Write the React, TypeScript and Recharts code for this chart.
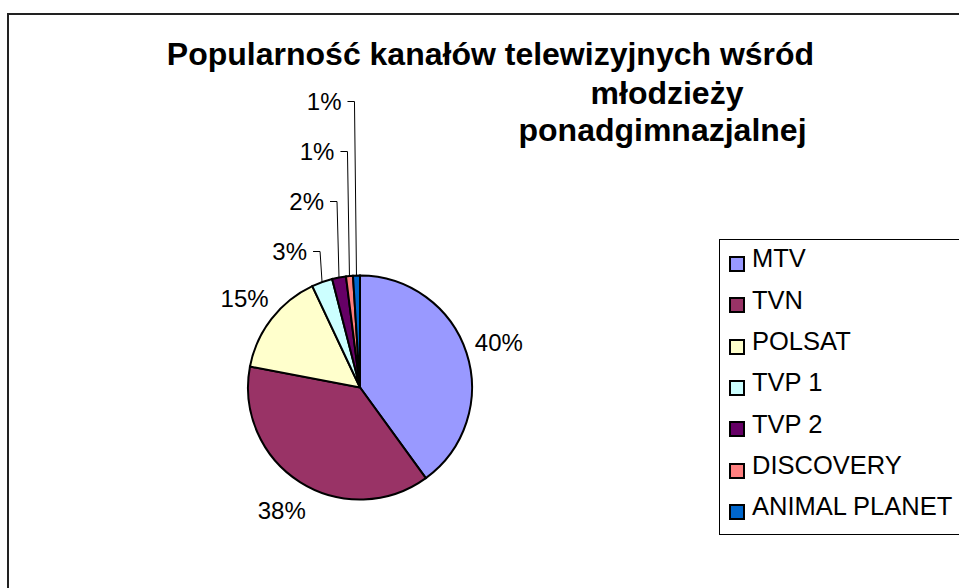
import React from 'react';
import { PieChart, Pie, Legend } from 'recharts';

// Chart data
const channels = ['MTV', 'TVN', 'POLSAT', 'TVP 1', 'TVP 2', 'DISCOVERY', 'ANIMAL PLANET'];
const shares = [40, 38, 15, 3, 2, 1, 1];
const sliceColors = ['#9999FF', '#993366', '#FFFFCC', '#CCFFFF', '#660066', '#FF8080', '#0066CC'];
const titleLines = ['Popularność kanałów telewizyjnych wśród', 'młodzieży', 'ponadgimnazjalnej'];

const data = channels.map((name, i) => ({ name, value: shares[i], fill: sliceColors[i] }));

const FONT = '"Liberation Sans", Arial, sans-serif';
const RADIAN = Math.PI / 180;
const SMALL_FROM = 3; // slices from this index on get stacked callout labels

const renderLabel = (props: any) => {
  const { cx, cy, midAngle, outerRadius, percent, index } = props;
  const text = `${Math.round(percent * 100)}%`;
  const cos = Math.cos(-midAngle * RADIAN);
  const sin = Math.sin(-midAngle * RADIAN);

  if (index < SMALL_FROM) {
    const r = outerRadius + 34;
    return (
      <text key={`lbl-${index}`} x={cx + r * cos} y={cy + r * sin} textAnchor="middle"
        dominantBaseline="central" fontFamily={FONT} fontSize={24} fill="#000">
        {text}
      </text>
    );
  }

  // thin slices: label stacked above the pie, leader line down to the slice edge
  const ex = cx + outerRadius * cos;
  const ey = cy + outerRadius * sin;
  const elbow = ex - 2;
  const ly = cy - outerRadius - 24 - (index - SMALL_FROM) * 50;
  return (
    <g key={`lbl-${index}`}>
      <polyline points={`${elbow - 7},${ly} ${elbow},${ly} ${ex},${ey}`} fill="none" stroke="#000" strokeWidth={1} />
      <text x={elbow - 13} y={ly} textAnchor="end" dominantBaseline="central"
        fontFamily={FONT} fontSize={24} fill="#000">
        {text}
      </text>
    </g>
  );
};

const LegendBox = ({ payload }: any) => {
  // keep the series order of the data, not the legend's own sorting
  const items = channels.map((c, i) => {
    const hit = (payload || []).find((p: any) => p.value === c);
    return { value: c, color: sliceColors[i] || (hit && hit.color) };
  });
  return (
    <div style={{
      width: 260, height: 296, border: '1px solid #000', background: '#fff',
      fontFamily: FONT, fontSize: 25.5, lineHeight: '24px', color: '#000', paddingTop: 6.2, boxSizing: 'border-box'
    }}>
      {items.map((entry) => (
        <div key={entry.value} style={{ position: 'relative', height: 41.33 }}>
          <div style={{
            position: 'absolute', left: 9, top: 9.8, width: 16, height: 16,
            boxSizing: 'border-box', border: '2px solid #000', background: entry.color
          }} />
          <div style={{ position: 'absolute', left: 32, top: 0, whiteSpace: 'nowrap' }}>{entry.value}</div>
        </div>
      ))}
    </div>
  );
};

export default function App() {
  return (
    <div style={{ position: 'absolute', left: 0, top: 0, width: 959, height: 588, overflow: 'hidden', background: '#fff' }}>
      <div style={{ position: 'absolute', left: 7, top: 13, width: 1000, height: 1000, border: '2px solid #222' }} />
      <div style={{ position: 'absolute', left: 0, top: 0 }}>
        <PieChart width={959} height={588} margin={{ top: 0, right: 0, bottom: 0, left: 0 }}>
          <Pie
            data={data}
            dataKey="value"
            nameKey="name"
            cx={360}
            cy={387.5}
            outerRadius={112}
            startAngle={90}
            endAngle={-270}
            stroke="#000"
            strokeWidth={2}
            label={renderLabel}
            labelLine={false}
            isAnimationActive={false}
          />
          <Legend
            layout="vertical"
            align="right"
            verticalAlign="top"
            content={<LegendBox />}
            wrapperStyle={{ left: 719, top: 239, width: 'auto', right: 'auto' }}
          />
        </PieChart>
      </div>
      <svg width={959} height={588} style={{ position: 'absolute', left: 0, top: 0, pointerEvents: 'none' }}>
        <g fontFamily={FONT} fontWeight="bold" fontSize={32} fill="#000" textAnchor="middle">
          <text x={490.5} y={65}>{titleLines[0]}</text>
          <text x={667} y={104}>{titleLines[1]}</text>
          <text x={662.5} y={141}>{titleLines[2]}</text>
        </g>
      </svg>
    </div>
  );
}
